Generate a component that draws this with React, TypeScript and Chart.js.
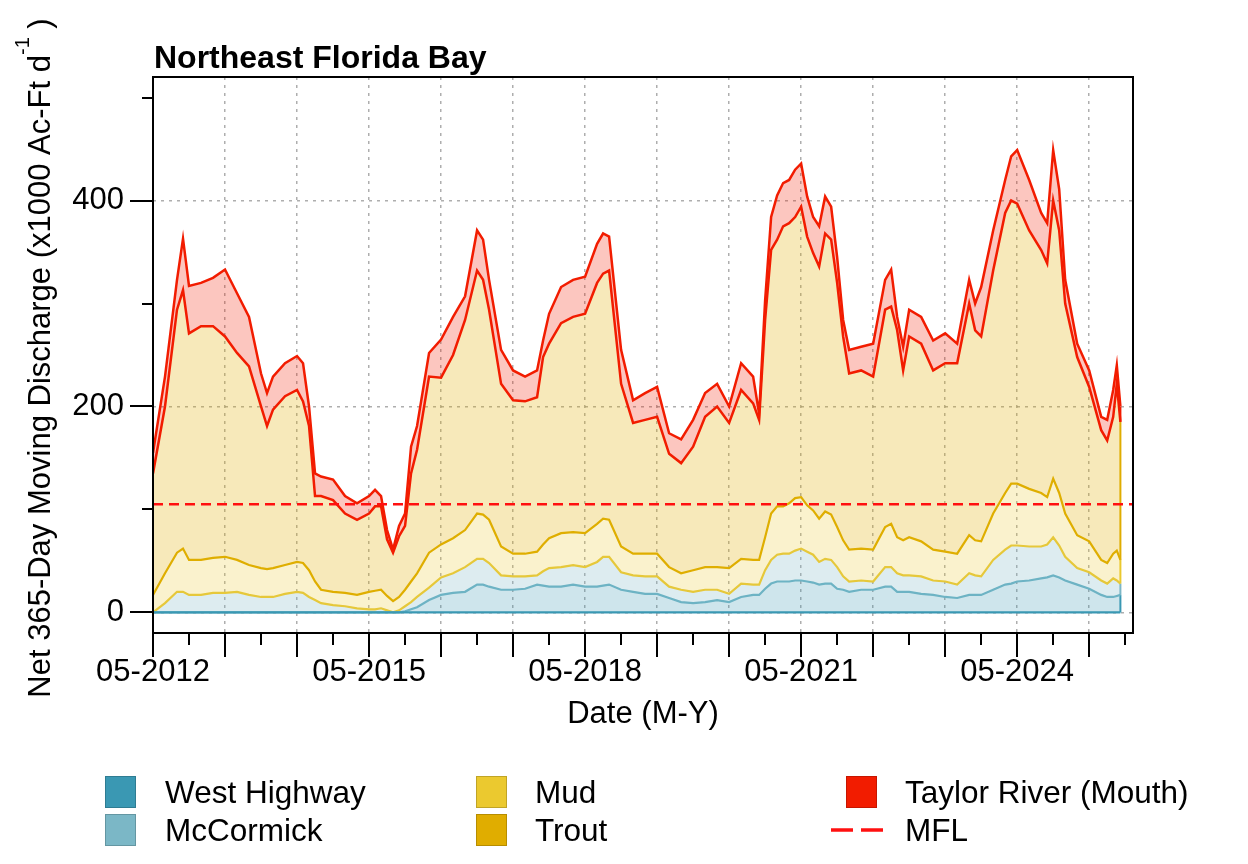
import { useEffect, useRef } from "react";
import { Chart, registerables } from "chart.js";

Chart.register(...registerables);

const FONT = '"Liberation Sans", Arial, Helvetica, sans-serif';

// months since 05-2012
const months = [
  0, 2, 4, 5, 6, 8, 10, 12, 14, 16,
  18, 19, 20, 22, 24, 25, 26, 27, 28, 30,
  32, 34, 36, 37, 38, 39, 40, 41, 42, 43,
  44, 46, 48, 50, 52, 54, 55, 56, 58, 60,
  62, 64, 65, 66, 68, 70, 72, 74, 75, 76,
  78, 80, 82, 84, 86, 88, 90, 92, 94, 96,
  98, 100, 101, 102, 103, 104, 105, 106, 107, 108,
  109, 110, 111, 112, 113, 114, 115, 116, 118, 120,
  122, 123, 124, 125, 126, 128, 130, 132, 134, 136,
  137, 138, 140, 142, 143, 144, 146, 148, 149, 150,
  151, 152, 154, 156, 158, 159, 160, 160.6, 161.2,
];

// cumulative (stacked) levels, x1000 Ac-Ft/d
const westHighwayTop = [
  0, 0, 0, 0, 0, 0, 0, 0, 0, 0,
  0, 0, 0, 0, 0, 0, 0, 0, 0, 0,
  0, 0, 0, 0, 0, 0, 0, 0, 1, 3,
  5, 12, 17, 19, 20, 27, 27, 25, 22, 22,
  23, 27, 26, 25, 25, 27, 25, 25, 26, 27,
  22, 20, 18, 18, 14, 10, 9, 10, 12, 10,
  15, 17, 17, 23, 28, 30, 30, 30, 31, 31,
  30, 29, 27, 28, 28, 23, 22, 20, 22, 22,
  25, 25, 20, 20, 20, 18, 17, 15, 14, 17,
  17, 17, 22, 27, 28, 30, 31, 33, 34, 36,
  34, 31, 27, 23, 17, 15, 15, 16, 17,
];

const mcCormickTop = [
  0, 9, 20, 20, 17, 17, 19, 19, 20, 17,
  15, 15, 15, 18, 20, 19, 15, 12, 9, 7,
  6, 4, 3, 3, 4, 2, 0, 2, 6, 10,
  15, 24, 34, 38, 44, 52, 52, 48, 36, 35,
  35, 36, 40, 43, 44, 46, 44, 49, 54, 54,
  39, 36, 35, 35, 25, 22, 20, 22, 22, 18,
  28, 27, 27, 41, 51, 56, 57, 57, 60, 62,
  59, 56, 49, 52, 51, 44, 35, 30, 31, 30,
  44, 44, 38, 36, 36, 35, 31, 30, 27, 38,
  36, 35, 51, 61, 65, 65, 64, 64, 66, 73,
  65, 54, 43, 39, 31, 28, 33, 31, 28,
];

const mudTop = [
  17, 38, 58, 62, 51, 51, 53, 54, 51, 46,
  43, 42, 43, 46, 49, 48, 41, 30, 22, 20,
  19, 17, 20, 21, 22, 16, 11, 15, 22, 30,
  38, 58, 66, 72, 80, 96, 95, 90, 64, 57,
  57, 59, 66, 72, 77, 78, 77, 86, 91, 90,
  64, 57, 57, 57, 44, 38, 41, 44, 44, 43,
  52, 51, 51, 73, 96, 103, 103, 106, 111, 112,
  104, 99, 91, 98, 95, 83, 70, 61, 62, 61,
  83, 86, 73, 70, 73, 69, 61, 59, 57, 75,
  70, 69, 96, 116, 125, 125, 120, 116, 112, 130,
  116, 96, 75, 69, 51, 48, 57, 60, 51,
];

const troutTop = [
  135, 200, 294, 313, 271, 278, 278, 268, 252, 239,
  200, 181, 197, 210, 216, 205, 181, 113, 113, 109,
  96, 90, 96, 103, 103, 71, 58, 74, 84, 135,
  158, 229, 228, 250, 284, 332, 323, 294, 222, 206,
  205, 209, 248, 261, 281, 287, 290, 320, 329, 332,
  222, 184, 187, 190, 154, 145, 161, 190, 200, 184,
  216, 203, 187, 284, 352, 362, 375, 378, 384, 394,
  365, 349, 336, 368, 362, 320, 268, 232, 235, 229,
  294, 297, 274, 235, 268, 261, 235, 242, 242, 300,
  274, 268, 332, 388, 400, 397, 371, 352, 339, 400,
  371, 300, 248, 219, 177, 167, 190, 222, 185,
];

const taylorTop = [
  155, 229, 323, 363, 317, 320, 325, 333, 310, 287,
  232, 213, 229, 242, 249, 242, 200, 135, 132, 129,
  113, 106, 113, 119, 113, 80, 61, 84, 96, 161,
  181, 252, 265, 287, 307, 371, 362, 323, 255, 235,
  229, 235, 264, 290, 316, 323, 326, 358, 368, 365,
  255, 206, 213, 219, 174, 168, 187, 213, 222, 200,
  242, 229, 193, 303, 384, 405, 417, 420, 430, 436,
  404, 384, 375, 404, 394, 345, 284, 255, 258, 261,
  323, 333, 287, 258, 294, 287, 264, 271, 261, 323,
  300, 316, 371, 420, 443, 449, 420, 388, 378, 449,
  411, 323, 261, 235, 190, 187, 216, 240, 200,
];

const mflValue = 105;

const xMin = 0;
const xMax = 163.3;
const yMin = -20;
const yMax = 520;
const xLabelMonths = [0, 36, 72, 108, 144];
const xTickLabels = ["05-2012", "05-2015", "05-2018", "05-2021", "05-2024"];
const yLabelValues = [0, 200, 400];
const yTickLabels = ["0", "200", "400"];

const seriesNames = ["West Highway", "McCormick", "Mud", "Trout", "Taylor River (Mouth)", "MFL"];
const seriesColors = ["#3a98b3", "#7bb7c6", "#ebc92f", "#e0ad00", "#f21c00", "#ff1010"];

const GRID = "rgba(140,140,140,0.7)";

function pts(arr: number[]) {
  return months.map((m, i) => ({ x: m, y: arr[i] }));
}

const framePlugin = {
  id: "frameTicksTitles",
  afterDraw(chart: any) {
    const { ctx, chartArea } = chart;
    const xs = chart.scales.x;
    const ys = chart.scales.y;
    ctx.save();
    ctx.strokeStyle = "#000";
    ctx.lineWidth = 2;
    ctx.strokeRect(chartArea.left, chartArea.top, chartArea.right - chartArea.left, chartArea.bottom - chartArea.top);
    // x ticks
    ctx.beginPath();
    for (const t of xs.ticks) {
      const px = Math.round(xs.getPixelForValue(t.value));
      const len = t.value % 12 === 0 ? 24 : 12;
      ctx.moveTo(px, chartArea.bottom);
      ctx.lineTo(px, chartArea.bottom + len);
    }
    // y ticks
    for (const t of ys.ticks) {
      const py = Math.round(ys.getPixelForValue(t.value));
      const len = yLabelValues.includes(t.value) ? 23 : 11;
      ctx.moveTo(chartArea.left, py);
      ctx.lineTo(chartArea.left - len, py);
    }
    ctx.stroke();

    // title
    ctx.fillStyle = "#000";
    ctx.font = `bold 32px ${FONT}`;
    ctx.textBaseline = "alphabetic";
    ctx.textAlign = "left";
    ctx.fillText("Northeast Florida Bay", chartArea.left + 1, 68);

    // y axis title with superscript
    const main = "Net 365-Day Moving Discharge (x1000 Ac-Ft d";
    const sup = "-1";
    const tail = " )";
    ctx.font = `31px ${FONT}`;
    const wMain = ctx.measureText(main).width;
    const wTail = ctx.measureText(tail).width;
    ctx.font = `20px ${FONT}`;
    const wSup = ctx.measureText(sup).width;
    const total = wMain + wSup + wTail;
    const cy = 358;
    ctx.translate(50, cy);
    ctx.rotate(-Math.PI / 2);
    let x0 = -total / 2;
    ctx.font = `31px ${FONT}`;
    ctx.fillText(main, x0, 0);
    x0 += wMain;
    ctx.font = `20px ${FONT}`;
    ctx.fillText(sup, x0, -21);
    x0 += wSup;
    ctx.font = `31px ${FONT}`;
    ctx.fillText(tail, x0, 0);
    ctx.restore();
  },
};

function lineDs(label: string, arr: number[], border: string, bg: string, fill: any, width: number) {
  return {
    label,
    data: pts(arr),
    borderColor: border,
    backgroundColor: bg,
    borderWidth: width,
    pointRadius: 0,
    fill,
    tension: 0,
  };
}

function edge(lower: number[] | null, upper: number[], color: string) {
  const i = months.length - 1;
  return {
    label: "edge",
    data: [
      { x: months[i], y: lower ? lower[i] : 0 },
      { x: months[i], y: upper[i] },
    ],
    borderColor: color,
    borderWidth: 2,
    pointRadius: 0,
    fill: false,
  };
}

function ChartCanvas() {
  const ref = useRef<HTMLCanvasElement | null>(null);
  useEffect(() => {
    if (!ref.current) return;
    const first = months[0];
    const last = months[months.length - 1];
    const chart = new Chart(ref.current, {
      type: "line",
      data: {
        datasets: [
          {
            label: "MFL",
            data: [
              { x: xMin, y: mflValue },
              { x: xMax, y: mflValue },
            ],
            borderColor: seriesColors[5],
            borderWidth: 2.5,
            borderDash: [10, 6],
            pointRadius: 0,
            fill: false,
          } as any,
          {
            label: "base",
            data: [
              { x: first, y: 0 },
              { x: last, y: 0 },
            ],
            borderColor: seriesColors[0],
            borderWidth: 2.2,
            pointRadius: 0,
            fill: false,
          },
          lineDs(seriesNames[0], westHighwayTop, "#6db3c4", "rgba(58,152,179,0.25)", "origin", 2.2),
          lineDs(seriesNames[1], mcCormickTop, "#e6c83a", "rgba(123,183,198,0.26)", "-1", 2.2),
          lineDs(seriesNames[2], mudTop, "#dfae00", "rgba(236,201,46,0.24)", "-1", 2.2),
          lineDs(seriesNames[3], troutTop, "#f21c00", "rgba(224,173,0,0.27)", "-1", 2.5),
          lineDs(seriesNames[4], taylorTop, "#f21c00", "rgba(242,28,0,0.25)", "-1", 2.5),
          edge(null, westHighwayTop, seriesColors[0]),
          edge(westHighwayTop, mcCormickTop, seriesColors[1]),
          edge(mcCormickTop, mudTop, seriesColors[2]),
          edge(mudTop, troutTop, seriesColors[3]),
          edge(troutTop, taylorTop, seriesColors[4]),
        ] as any,
      },
      options: {
        animation: false,
        responsive: false,
        devicePixelRatio: 1,
        layout: { padding: { left: 0, right: 115, top: 77, bottom: 129 } },
        plugins: {
          legend: { display: false },
          tooltip: { enabled: false },
          title: { display: false },
        },
        scales: {
          x: {
            type: "linear",
            min: xMin,
            max: xMax,
            afterFit: (s: any) => {
              s.height = 102;
            },
            border: { display: false, dash: [3, 5] },
            grid: {
              drawTicks: false,
              lineWidth: 1.5,
              color: (c: any) => (c.tick && c.tick.value % 12 === 0 ? GRID : "rgba(0,0,0,0)"),
            },
            ticks: {
              stepSize: 6,
              autoSkip: false,
              maxRotation: 0,
              minRotation: 0,
              includeBounds: false,
              padding: 21,
              color: "#000",
              font: { family: FONT, size: 31 },
              callback: (v: any) => {
                const k = xLabelMonths.indexOf(Number(v));
                return k >= 0 ? xTickLabels[k] : "";
              },
            },
            title: {
              display: true,
              text: "Date (M-Y)",
              color: "#000",
              font: { family: FONT, size: 31 },
              padding: { top: 0, bottom: 2 },
            },
          },
          y: {
            type: "linear",
            min: yMin,
            max: yMax,
            afterFit: (s: any) => {
              s.width = 153;
            },
            border: { display: false, dash: [3, 5] },
            grid: {
              drawTicks: false,
              lineWidth: 1.5,
              color: (c: any) => (c.tick && yLabelValues.includes(c.tick.value) ? GRID : "rgba(0,0,0,0)"),
            },
            ticks: {
              stepSize: 100,
              includeBounds: false,
              padding: 29,
              color: "#000",
              font: { family: FONT, size: 31 },
              callback: (v: any) => {
                const k = yLabelValues.indexOf(Number(v));
                return k >= 0 ? yTickLabels[k] : "";
              },
            },
          },
        },
      } as any,
      plugins: [framePlugin],
    });
    return () => chart.destroy();
  }, []);
  return <canvas ref={ref} width={1248} height={864} style={{ width: 1248, height: 864, display: "block" }} />;
}

const legendItems = [
  { name: seriesNames[0], color: seriesColors[0], sx: 105, tx: 165, top: 776, dash: false },
  { name: seriesNames[1], color: seriesColors[1], sx: 105, tx: 165, top: 814, dash: false },
  { name: seriesNames[2], color: seriesColors[2], sx: 476, tx: 535, top: 776, dash: false },
  { name: seriesNames[3], color: seriesColors[3], sx: 476, tx: 535, top: 814, dash: false },
  { name: seriesNames[4], color: seriesColors[4], sx: 846, tx: 905, top: 776, dash: false },
  { name: seriesNames[5], color: seriesColors[5], sx: 831, tx: 905, top: 814, dash: true },
];

export default function App() {
  return (
    <div style={{ position: "fixed", left: 0, top: 0, width: 1248, height: 864, background: "#fff", overflow: "hidden" }}>
      <ChartCanvas />
      {legendItems.map((it) => (
        <div key={it.name}>
          {it.dash ? (
            <svg style={{ position: "absolute", left: it.sx, top: it.top + 12 }} width={54} height={8}>
              <line x1={0} y1={4} x2={52} y2={4} stroke={it.color} strokeWidth={3.5} strokeDasharray="22 8" />
            </svg>
          ) : (
            <div
              style={{
                position: "absolute",
                left: it.sx,
                top: it.top,
                width: 31,
                height: 32,
                boxSizing: "border-box",
                background: it.color,
                border: "1px solid rgba(0,0,0,0.18)",
              }}
            />
          )}
          <div
            style={{
              position: "absolute",
              left: it.tx,
              top: it.top,
              fontFamily: FONT,
              fontSize: 31.5,
              lineHeight: "32px",
              color: "#000",
              whiteSpace: "nowrap",
            }}
          >
            {it.name}
          </div>
        </div>
      ))}
    </div>
  );
}
